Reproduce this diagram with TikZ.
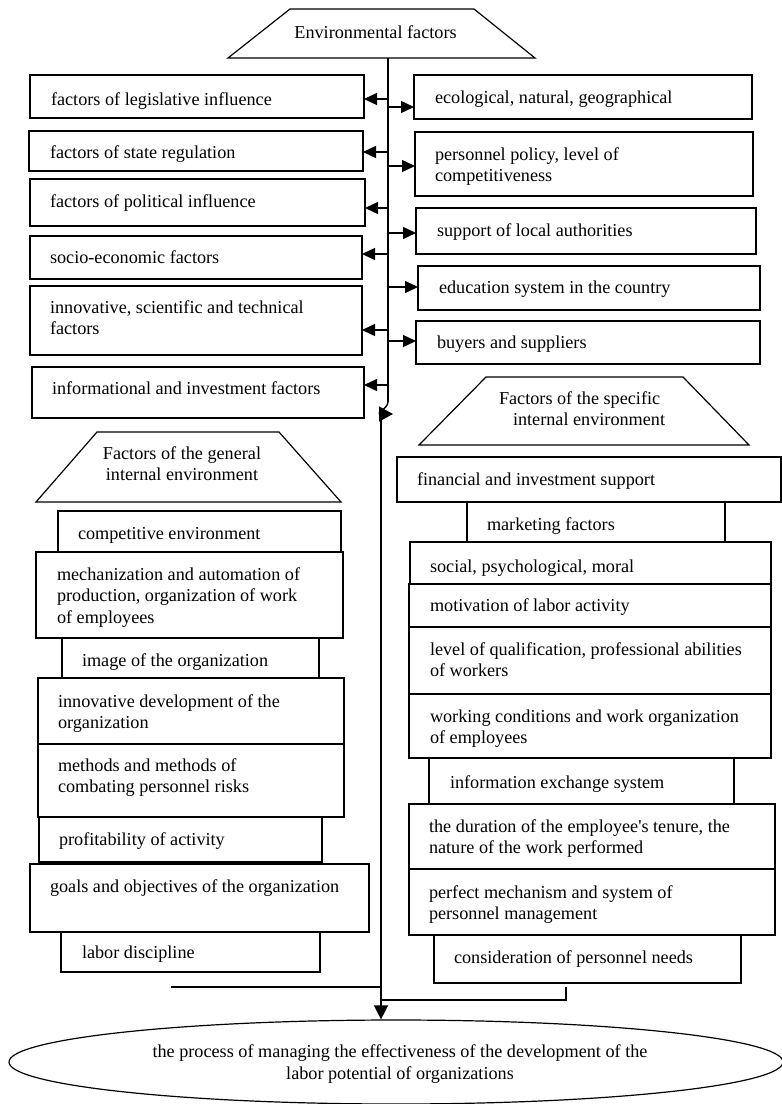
\documentclass[tikz,border=0pt]{standalone}
\usepackage{fontspec}
\setmainfont{Liberation Serif}[Ligatures=TeXOff]
\usetikzlibrary{arrows.meta,shapes.geometric}

% box: name, x1, y1, x2, y2 (y grows downwards)
\newcommand\fbx[5]{\node[box, minimum width={#4-#2}, minimum height={#5-#3}] (#1) at (#2,#3) {};}
% text: name, x of left edge, baseline of first line, text
\newcommand\ftx[4]{\node[txt] (#1) at (#2,{#3-14}) {\rule{0pt}{14pt}#4};}

\begin{document}
\begin{tikzpicture}[x=1pt,y=-1pt,
  box/.style={draw, line width=1.2pt, inner sep=0pt, outer sep=0pt, anchor=north west},
  txt/.style={inner sep=0pt, outer sep=0pt, anchor=north west, align=left,
              font=\fontsize{18.2}{21.5}\selectfont},
  outline/.style={draw, line width=1.2pt, line join=miter},
  link/.style={line width=1.4pt},
  arr/.style={link, -{Triangle[length=13pt,width=12pt]}},
]
\useasboundingbox (0,0) rectangle (782,1104);

% ---------- external environment ----------
\path[outline] (228,58) -- (290,9) -- (474,9) -- (535,58) -- cycle;
\node[txt, anchor=base] (env) at (375.5,38) {Environmental factors};
\coordinate (envb) at (388,58);

\fbx{L1}{30}{75}{364}{118}   \ftx{L1t}{51}{105}{factors of legislative influence}
\fbx{L2}{29}{131}{363}{171}  \ftx{L2t}{50}{158}{factors of state regulation}
\fbx{L3}{30}{179}{365}{226}  \ftx{L3t}{50}{207}{factors of political influence}
\fbx{L4}{30}{236}{362}{279}  \ftx{L4t}{50}{263}{socio-economic factors}
\fbx{L5}{30}{286}{362}{355}  \ftx{L5t}{50}{313}{innovative, scientific and technical\\factors}
\fbx{L6}{32}{367}{364}{418}  \ftx{L6t}{52}{394}{informational and investment factors}

\fbx{R1}{414}{75}{752}{119}  \ftx{R1t}{435}{103}{ecological, natural, geographical}
\fbx{R2}{415}{132}{753}{196} \ftx{R2t}{435}{160}{personnel policy, level of\\competitiveness}
\fbx{R3}{416}{208}{756}{254} \ftx{R3t}{437}{236}{support of local authorities}
\fbx{R4}{418}{266}{760}{310} \ftx{R4t}{439}{293}{education system in the country}
\fbx{R5}{416}{321}{760}{364} \ftx{R5t}{437}{348}{buyers and suppliers}

% main spine and its branches
\coordinate (vbot) at (388,402);
\draw[link] (envb) -- (vbot);
\foreach \n/\y in {L1/99, L2/152, L3/208, L4/254, L5/330, L6/385}
  \draw[arr] (388,\y) -- (\n.east |- 388,\y);
\foreach \n/\y in {R1/107, R2/166, R3/233, R4/287, R5/341}
  \draw[arr] (388,\y) -- (\n.west |- 388,\y);
\coordinate (hook) at (393,414);
\draw[link, -{Triangle[length=14pt,width=15pt]}] (vbot) .. controls (388,408) and (376,414) .. (hook);

% ---------- general internal environment ----------
\path[outline] (36,502) -- (97,432) -- (279,432) -- (341,502) -- cycle;
\node[txt, anchor=north, align=center] (gen) at (182,445) {\rule{0pt}{14pt}Factors of the general\\internal environment};

\fbx{G1}{58}{511}{341}{552}  \ftx{G1t}{78}{539}{competitive environment}
\fbx{G2}{36}{552}{343}{638}  \ftx{G2t}{57}{580}{mechanization and automation of\\production, organization of work\\of employees}
\fbx{G3}{62}{638}{319}{678}  \ftx{G3t}{82}{666}{image of the organization}
\fbx{G4}{38}{678}{344}{744}  \ftx{G4t}{58}{707}{innovative development of the\\organization}
\fbx{G5}{38}{744}{344}{817}  \ftx{G5t}{58}{771}{methods and methods of\\combating personnel risks}
\fbx{G6}{39}{817}{322}{862}  \ftx{G6t}{59}{845}{profitability of activity}
\fbx{G7}{30}{864}{369}{932}  \ftx{G7t}{50}{892}{goals and objectives of the organization}
\fbx{G8}{61}{932}{320}{972}  \ftx{G8t}{82}{958}{labor discipline}

% ---------- specific internal environment ----------
\path[outline] (419,445) -- (486,377) -- (683,377) -- (749,445) -- cycle;
\ftx{spec}{499}{404}{Factors of the specific\\\hspace*{14pt}internal environment}

\fbx{S1}{397}{457}{781}{502}  \ftx{S1t}{417}{485}{financial and investment support}
\fbx{S2}{467}{502}{725}{542}  \ftx{S2t}{487}{530}{marketing factors}
\fbx{S3}{410}{542}{771}{584}  \ftx{S3t}{430}{572}{social, psychological, moral}
\fbx{S4}{409}{584}{771}{627}  \ftx{S4t}{430}{611}{motivation of labor activity}
\fbx{S5}{409}{627}{771}{694}  \ftx{S5t}{430}{655}{level of qualification, professional abilities\\of workers}
\fbx{S6}{409}{694}{771}{758}  \ftx{S6t}{430}{722}{working conditions and work organization\\of employees}
\fbx{S7}{429}{758}{734}{804}  \ftx{S7t}{450}{788}{information exchange system}
\fbx{S8}{409}{804}{775}{869}  \ftx{S8t}{429}{832}{the duration of the employee's tenure, the\\nature of the work performed}
\fbx{S9}{409}{869}{775}{935}  \ftx{S9t}{429}{898}{perfect mechanism and system of\\personnel management}
\fbx{S10}{434}{935}{741}{983} \ftx{S10t}{454}{963}{consideration of personnel needs}

% ---------- result ----------
\node[draw, ellipse, line width=1.2pt, inner sep=0pt, minimum width=774, minimum height=84] (proc) at (396,1062) {};
\node[txt, anchor=north, align=center] (proct) at (400,1043.5)
  {\rule{0pt}{14pt}the process of managing the effectiveness of the development of the\\labor potential of organizations};

% collecting lines into the result
\coordinate (vtop) at (381,418);
\coordinate (lfree) at (171,987);
\coordinate (ljoin) at (381,987);
\coordinate (rfree) at (566,987);
\coordinate (rjoin) at (381,1000);
\draw[link] (lfree) -- (ljoin);
\draw[link] (rfree) |- (rjoin);
\draw[link, -{Triangle[length=14pt,width=14pt]}] (vtop) -- (vtop |- proc.north);
\end{tikzpicture}
\end{document}
